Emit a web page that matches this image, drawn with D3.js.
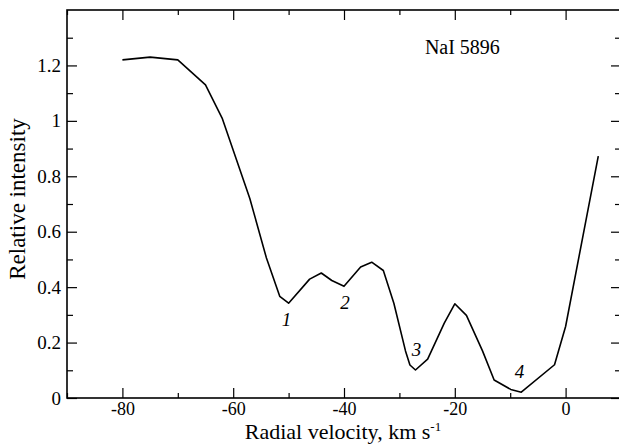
<!DOCTYPE html>
<html lang="en">

<head>
    <meta charset="UTF-8">
    <title>NaI 5896 profile</title>
    <style>
        body {
            margin: 0;
            background: #fff;
        }

        svg text {
            font-family: "Liberation Serif", "Times New Roman", Times, serif;
            fill: #000;
        }

        .axis path {
            display: none;
        }

        .axis line {
            stroke: #000;
            stroke-width: 1.2;
        }

        .profile {
            fill: none;
            stroke: #000;
            stroke-width: 1.6;
            stroke-linejoin: round;
        }
    </style>
</head>

<body>
    <svg id="chart"></svg>

    <script src="https://d3js.org/d3.v7.min.js"></script>
    <script>
        // Profile
        const velocity = [-80, -75, -70, -65, -62, -57, -54, -51.6, -50, -46.2, -44.1, -42.2, -40, -37, -35, -32.9,
            -31, -28.9, -28.1, -27.1, -24.9, -21.9, -20, -17.9, -15, -12.9, -9.9, -8, -2, 0, 5.9];
        const intensity = [1.22, 1.23, 1.22, 1.13, 1.01, 0.72, 0.505, 0.367, 0.342, 0.429, 0.451, 0.424, 0.403, 0.473,
            0.49, 0.46, 0.342, 0.17, 0.119, 0.101, 0.14, 0.27, 0.34, 0.298, 0.17, 0.065, 0.031, 0.021, 0.12, 0.258, 0.873];

        // Component labels 1-4
        const compNames = ["1", "2", "3", "4"];
        const compVel = [-50.4, -39.8, -26.9, -8.3];
        const compInt = [0.26, 0.322, 0.152, 0.072];

        // Ticks
        const xMajor = [-80, -60, -40, -20, 0];
        const xMinor = [-90, -70, -50, -30, -10, 10];
        const yMajor = [0, 0.2, 0.4, 0.6, 0.8, 1, 1.2];
        const yMinor = [0.1, 0.3, 0.5, 0.7, 0.9, 1.1, 1.3];

        const w = 619;
        const h = 445;
        const mLeft = 67, mTop = 10, mRight = 621, mBottom = 398;

        const svg = d3.select("#chart")
            .attr("width", w)
            .attr("height", h);

        const x = d3.scaleLinear().domain([-90, 10]).range([mLeft, mRight]);
        const y = d3.scaleLinear().domain([0, 1.4]).range([mBottom, mTop]);

        // Ticks on all four sides, pointing inward
        const addTicks = (axis, values, size, transform, labels) => {
            const g = svg.append("g")
                .attr("class", "axis")
                .attr("transform", transform)
                .call(axis.tickValues(values).tickSize(size).tickSizeOuter(0)
                    .tickFormat(labels ? (d => String(d)) : ""));
            g.selectAll("text").style("font-size", "19px");
            return g;
        };

        addTicks(d3.axisBottom(x), xMajor, -10, `translate(0,${mBottom})`, true)
            .selectAll("text").attr("y", 17).attr("dy", 0).style("font-size", "18px");
        addTicks(d3.axisBottom(x), xMinor, -5, `translate(0,${mBottom})`, false);
        addTicks(d3.axisTop(x), xMajor, -10, `translate(0,${mTop})`, false);
        addTicks(d3.axisTop(x), xMinor, -5, `translate(0,${mTop})`, false);

        addTicks(d3.axisLeft(y), yMajor, -10, `translate(${mLeft},0)`, true)
            .selectAll("text").attr("x", -6);
        addTicks(d3.axisLeft(y), yMinor, -6, `translate(${mLeft},0)`, false);
        addTicks(d3.axisRight(y), yMajor, -10, `translate(${mRight},0)`, false);
        addTicks(d3.axisRight(y), yMinor, -6, `translate(${mRight},0)`, false);

        // Frame
        svg.append("rect")
            .attr("x", mLeft)
            .attr("y", mTop)
            .attr("width", mRight - mLeft)
            .attr("height", mBottom - mTop)
            .attr("fill", "none")
            .attr("stroke", "#000")
            .attr("stroke-width", 1.6);

        // Profile line
        const line = d3.line()
            .x((d, i) => x(velocity[i]))
            .y(d => y(d));

        svg.append("path")
            .datum(intensity)
            .attr("class", "profile")
            .attr("d", line);

        // Component numbers
        svg.selectAll(".comp")
            .data(compNames)
            .enter()
            .append("text")
            .attr("class", "comp")
            .attr("x", (d, i) => x(compVel[i]))
            .attr("y", (d, i) => y(compInt[i]))
            .attr("text-anchor", "middle")
            .style("font-size", "19px")
            .style("font-style", "italic")
            .text(d => d);

        // Line name
        svg.append("text")
            .attr("x", x(-25.4))
            .attr("y", y(1.24))
            .style("font-size", "20px")
            .text("NaI 5896");

        // Axis titles
        const xt = svg.append("text")
            .attr("x", 343)
            .attr("y", 439)
            .attr("text-anchor", "middle")
            .style("font-size", "22px");
        xt.append("tspan").text("Radial velocity, km s");
        xt.append("tspan").attr("dy", -8).style("font-size", "13px").text("-1");

        svg.append("text")
            .attr("transform", "translate(25,199) rotate(-90)")
            .attr("text-anchor", "middle")
            .style("font-size", "23px")
            .text("Relative intensity");
    </script>
</body>

</html>
